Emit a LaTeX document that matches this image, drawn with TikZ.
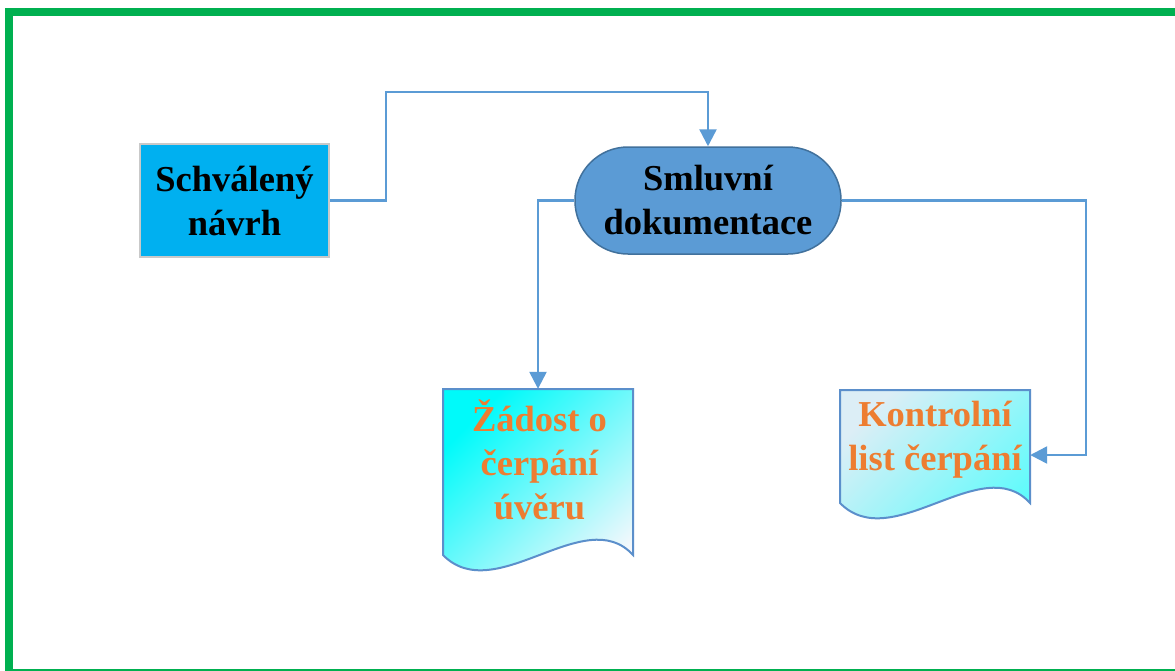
\documentclass[tikz,border=0pt]{standalone}
\usepackage{fontspec}
\setmainfont{Liberation Serif}
\usetikzlibrary{arrows.meta}

\definecolor{framegreen}{HTML}{00B050}
\definecolor{linkblue}{HTML}{5B9BD5}
\definecolor{procfill}{HTML}{00B0F0}
\definecolor{procline}{HTML}{C9C9C9}
\definecolor{termfill}{HTML}{5B9BD5}
\definecolor{termline}{HTML}{41719C}
\definecolor{doctext}{HTML}{ED7D31}
\definecolor{docline}{HTML}{5B8FCB}
\definecolor{doccyan}{HTML}{00FAFA}
\definecolor{docpale}{HTML}{F8F8FC}
\definecolor{docpale2}{HTML}{DCEEF6}

\tikzset{
  lbl/.style={font=\bfseries\fontsize{36.5}{44}\selectfont, align=center, inner sep=0pt},
  procbox/.style={lbl, draw=procline, fill=procfill, line width=2pt, text=black},
  termbox/.style={lbl, draw=termline, fill=termfill, line width=1.5pt, text=black, rounded corners=53pt},
  docarea/.style={draw=none, inner sep=0pt},
  doclabel/.style={lbl, text=doctext},
  docedge/.style={draw=docline, line width=2pt},
  flow/.style={draw=linkblue, line width=2.4pt, -{Triangle[width=17pt,length=17pt]}}
}

\begin{document}
\begin{tikzpicture}[x=1pt,y=-1pt]
  \useasboundingbox (0,0) rectangle (1175,670);
  \fill[white] (0,0) rectangle (1175,670);
  % outer frame
  \draw[framegreen, line width=8pt] (9,12) rectangle (1195,673);

  % process and terminator
  \node[procbox, minimum width=189pt, minimum height=113pt] (sch) at (234.5,200.5) {Schválený\\návrh};
  \node[termbox, minimum width=266pt, minimum height=107pt] (sml) at (708,200.5) {Smluvní\\dokumentace};

  % document areas
  \node[docarea, minimum width=190pt, minimum height=183pt] (zad) at (538,480.5) {};
  \node[docarea, minimum width=190pt, minimum height=127pt] (kon) at (935,453.5) {};

  % document shapes, shaded from the top left corner
  \path[top color=doccyan, bottom color=docpale, shading angle=45]
    (443,389) -- (633,389) -- (633,555)
    .. controls (585,502) and (495,608) .. (443,555) -- cycle;
  \draw[docedge] (443,389) -- (633,389) -- (633,555)
    .. controls (585,502) and (495,608) .. (443,555) -- cycle;

  \path[top color=docpale2, middle color=doccyan, bottom color=doccyan!65!white, shading angle=45]
    (840,390) -- (1030,390) -- (1030,503)
    .. controls (982,450) and (892,556) .. (840,503) -- cycle;
  \draw[docedge] (840,390) -- (1030,390) -- (1030,503)
    .. controls (982,450) and (892,556) .. (840,503) -- cycle;

  \node[doclabel] (zadt) at (539.5,460) {Žádost o\\čerpání\\úvěru};
  \node[doclabel] (kont) at (935,440) {Kontrolní\\list čerpání};

  % connectors
  \coordinate (j1) at (386,92);
  \coordinate (j2) at (1086,455);
  \draw[flow] (sch.east) -| (j1) -| (sml.north);
  \draw[flow] (sml.west) -| (zad.north);
  \draw[flow] (sml.east) -| (j2) -- (j2 -| kon.east);
\end{tikzpicture}
\end{document}
